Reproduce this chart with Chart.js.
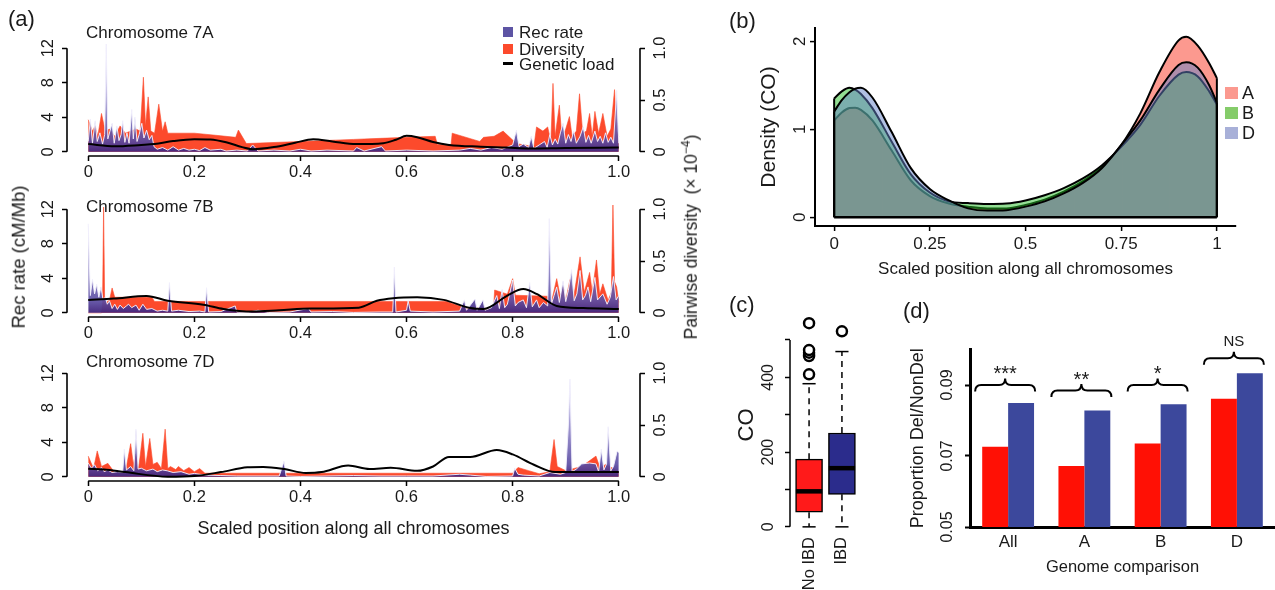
<!DOCTYPE html>
<html>
<head>
<meta charset="utf-8">
<script src="https://cdn.jsdelivr.net/npm/chart.js@4.4.1/dist/chart.umd.min.js"></script>
<style>
  body { margin: 0; width: 1275px; height: 590px; position: relative; background: #fff; overflow: hidden;
         font-family: "Liberation Sans", Arial, sans-serif; color: #1a1a1a; }
  canvas { position: absolute; }
  .t { position: absolute; white-space: nowrap; line-height: 1; transform: translateY(-50%); }
  .r { position: absolute; white-space: nowrap; line-height: 1; transform: translate(-50%, -50%) rotate(-90deg); }
  .sw { position: absolute; }
</style>
</head>
<body>
<canvas id="c7A" width="700" height="185" style="left:0;top:0"></canvas>
<canvas id="c7B" width="700" height="185" style="left:0;top:161px"></canvas>
<canvas id="c7D" width="700" height="220" style="left:0;top:325px"></canvas>
<canvas id="cDens" width="555" height="290" style="left:720px;top:0"></canvas>
<canvas id="cBox" width="150" height="300" style="left:720px;top:290px"></canvas>
<canvas id="cBar" width="405" height="300" style="left:870px;top:290px"></canvas>

<div class="t" style="left:8px;top:19px;font-size:22px">(a)</div>
<div class="t" style="left:729px;top:21px;font-size:22px">(b)</div>
<div class="t" style="left:729px;top:305px;font-size:22px">(c)</div>
<div class="t" style="left:903px;top:311px;font-size:22px">(d)</div>

<div class="t" style="left:86px;top:32px;font-size:17px">Chromosome 7A</div>
<div class="t" style="left:86px;top:206px;font-size:17px">Chromosome 7B</div>
<div class="t" style="left:86px;top:361px;font-size:17px">Chromosome 7D</div>

<div class="sw" style="left:503px;top:27px;width:10px;height:10px;background:#5d54a4"></div>
<div class="t" style="left:519px;top:32px;font-size:17px">Rec rate</div>
<div class="sw" style="left:503px;top:44px;width:10px;height:10px;background:#fc4a2c"></div>
<div class="t" style="left:519px;top:49px;font-size:17px">Diversity</div>
<div class="sw" style="left:503px;top:62px;width:10px;height:2.5px;background:#000"></div>
<div class="t" style="left:519px;top:64px;font-size:17px">Genetic load</div>

<div class="r" style="left:19px;top:257px;font-size:18.5px">Rec rate (cM/Mb)</div>
<div class="r" style="left:690px;top:237px;font-size:17.5px">Pairwise diversity&nbsp; (× 10<sup style="font-size:12px">−4</sup>)</div>

<div class="sw" style="left:1225px;top:87px;width:13px;height:12px;background:#fb998f"></div>
<div class="t" style="left:1242px;top:93px;font-size:18px">A</div>
<div class="sw" style="left:1225px;top:107px;width:13px;height:12px;background:#85cc6a"></div>
<div class="t" style="left:1242px;top:113px;font-size:18px">B</div>
<div class="sw" style="left:1225px;top:127px;width:13px;height:12px;background:#a8b0d8"></div>
<div class="t" style="left:1242px;top:133px;font-size:18px">D</div>

<script>
// ---- (a) recombination rate, diversity and genetic load along chromosome 7 ----
const posTicks = [0, 0.2, 0.4, 0.6, 0.8, 1];
const recTicks = [0, 4, 8, 12];
const divTicks = [0, 0.5, 1];

// [scaled position, cM/Mb]
const recRate7A = [[0,1.2],[0.004,3.8],[0.008,1.0],[0.013,3.6],[0.017,1.2],[0.022,2.2],[0.027,0.9],[0.031,2.0],[0.034,12.5],[0.037,1.5],[0.041,2.4],[0.045,3.3],[0.049,1.0],[0.054,3.0],[0.058,1.3],[0.062,2.0],[0.065,3.6],[0.069,1.1],[0.073,2.2],[0.077,1.0],[0.082,4.9],[0.085,1.5],[0.088,4.0],[0.092,1.2],[0.096,2.0],[0.101,3.3],[0.105,1.6],[0.11,2.5],[0.115,1.4],[0.12,1.9],[0.124,0.6],[0.13,0.3],[0.14,0.5],[0.15,0.2],[0.16,0.6],[0.17,0.2],[0.18,0.4],[0.19,0.2],[0.2,0.3],[0.21,0.15],[0.22,0.5],[0.23,0.2],[0.25,0.3],[0.26,0.1],[0.28,0.2],[0.3,0.1],[0.31,0.8],[0.32,0.1],[0.35,0.2],[0.38,0.1],[0.4,0.3],[0.42,0.1],[0.45,0.2],[0.5,0.1],[0.506,0.5],[0.52,0.1],[0.553,0.6],[0.56,0.1],[0.6,0.2],[0.65,0.1],[0.7,0.2],[0.72,0.4],[0.74,0.2],[0.76,0.5],[0.78,0.3],[0.8,0.8],[0.807,2.5],[0.812,0.6],[0.82,0.9],[0.83,0.5],[0.835,1.8],[0.84,0.4],[0.85,0.8],[0.86,1.2],[0.865,0.5],[0.87,2.0],[0.875,0.8],[0.88,1.5],[0.885,0.9],[0.89,2.2],[0.895,3.3],[0.9,1.0],[0.905,2.0],[0.91,1.2],[0.915,2.4],[0.92,1.0],[0.927,1.8],[0.933,2.9],[0.938,1.1],[0.943,1.9],[0.948,1.0],[0.955,2.4],[0.96,1.2],[0.965,1.8],[0.97,1.0],[0.975,2.2],[0.98,1.1],[0.985,1.7],[0.99,1.0],[0.996,7.1],[1,1.0]];
// [scaled position, pairwise diversity x 1e-4]
const diversity7A = [[0,0.31],[0.008,0.2],[0.013,0.25],[0.018,0.15],[0.025,0.37],[0.032,0.2],[0.04,0.22],[0.05,0.15],[0.06,0.25],[0.07,0.18],[0.08,0.2],[0.09,0.22],[0.098,0.2],[0.104,0.72],[0.108,0.25],[0.113,0.53],[0.118,0.2],[0.125,0.18],[0.133,0.46],[0.14,0.2],[0.145,0.29],[0.15,0.18],[0.2,0.18],[0.24,0.16],[0.278,0.14],[0.283,0.21],[0.298,0.08],[0.4,0.1],[0.5,0.12],[0.55,0.13],[0.654,0.15],[0.658,0.07],[0.684,0.07],[0.686,0.18],[0.738,0.1],[0.745,0.14],[0.765,0.15],[0.782,0.2],[0.807,0.08],[0.84,0.05],[0.845,0.24],[0.857,0.2],[0.866,0.24],[0.872,0.1],[0.876,0.66],[0.88,0.15],[0.888,0.45],[0.893,0.12],[0.9,0.22],[0.907,0.34],[0.912,0.15],[0.92,0.2],[0.926,0.56],[0.932,0.18],[0.939,0.2],[0.945,0.37],[0.95,0.15],[0.955,0.39],[0.962,0.18],[0.97,0.37],[0.978,0.15],[0.985,0.22],[0.992,0.6],[0.996,0.2],[1,0.15]];
const geneticLoad7A = [[0,0.9],[0.05,0.65],[0.1,0.8],[0.125,0.9],[0.16,1.25],[0.2,1.46],[0.23,1.42],[0.26,1.1],[0.29,0.55],[0.31,0.3],[0.35,0.55],[0.39,1.05],[0.424,1.45],[0.46,1.2],[0.505,0.9],[0.556,1.0],[0.58,1.4],[0.6,1.85],[0.62,1.7],[0.65,1.15],[0.68,0.8],[0.74,0.6],[0.79,0.5],[0.83,0.4],[0.9,0.45],[1,0.5]];

const recRate7B = [[0,10.3],[0.004,2.0],[0.008,3.9],[0.012,2.2],[0.016,3.3],[0.02,1.8],[0.024,3.0],[0.028,1.5],[0.032,1.8],[0.036,1.0],[0.04,1.4],[0.045,0.5],[0.05,1.0],[0.055,0.4],[0.06,0.9],[0.066,0.5],[0.072,0.8],[0.076,1.0],[0.082,0.6],[0.09,0.9],[0.096,0.3],[0.103,1.0],[0.11,0.4],[0.12,0.5],[0.13,0.2],[0.14,0.3],[0.15,0.2],[0.153,3.5],[0.157,0.2],[0.17,0.3],[0.19,0.15],[0.21,0.2],[0.22,0.1],[0.223,2.9],[0.227,0.1],[0.25,0.15],[0.277,0.8],[0.28,0.1],[0.3,0.05],[0.32,0.3],[0.34,0.05],[0.38,0.1],[0.415,0.5],[0.42,0.1],[0.46,0.15],[0.5,0.05],[0.55,0.1],[0.574,0.1],[0.577,5.3],[0.58,0.1],[0.6,0.3],[0.603,1.4],[0.607,0.2],[0.65,0.1],[0.7,0.2],[0.709,1.5],[0.713,0.3],[0.729,1.6],[0.733,0.3],[0.744,1.5],[0.748,0.3],[0.76,0.6],[0.77,2.0],[0.775,0.5],[0.78,2.7],[0.785,0.6],[0.79,1.0],[0.8,3.8],[0.805,0.8],[0.81,1.2],[0.82,1.5],[0.826,0.6],[0.832,3.5],[0.837,0.7],[0.845,1.5],[0.85,0.6],[0.858,1.2],[0.866,0.8],[0.869,10.9],[0.873,1.0],[0.878,2.0],[0.883,3.0],[0.888,1.2],[0.895,3.7],[0.9,1.3],[0.905,2.6],[0.911,5.0],[0.916,1.4],[0.921,2.2],[0.927,4.9],[0.932,1.5],[0.937,2.0],[0.942,3.0],[0.947,1.3],[0.955,4.1],[0.96,1.5],[0.97,2.2],[0.978,1.0],[0.984,1.8],[0.99,4.2],[0.995,1.5],[1,2.0]];
const diversity7B = [[0,0],[0.025,0],[0.027,0.1],[0.029,1.02],[0.031,0.1],[0.04,0.12],[0.045,0.24],[0.05,0.15],[0.12,0.15],[0.125,0.11],[0.52,0.11],[0.6,0.11],[0.675,0.11],[0.71,0.05],[0.764,0.04],[0.766,0.22],[0.79,0.18],[0.8,0.33],[0.805,0.17],[0.866,0.16],[0.872,0.08],[0.883,0.33],[0.89,0.15],[0.895,0.25],[0.9,0.12],[0.908,0.32],[0.915,0.15],[0.927,0.54],[0.935,0.2],[0.945,0.39],[0.95,0.2],[0.958,0.51],[0.964,0.18],[0.97,0.28],[0.98,0.12],[0.986,0.2],[0.989,1.05],[0.992,0.3],[0.996,0.25],[1,0.1]];
const geneticLoad7B = [[0,1.5],[0.048,1.65],[0.11,1.95],[0.15,1.4],[0.217,0.95],[0.255,0.45],[0.31,0.15],[0.36,0.3],[0.42,0.5],[0.51,0.6],[0.544,1.4],[0.575,1.7],[0.62,1.8],[0.67,1.5],[0.72,0.55],[0.745,0.45],[0.79,2.0],[0.82,2.75],[0.845,2.2],[0.883,0.8],[0.933,0.55],[1,0.45]];

const recRate7D = [[0,1.6],[0.006,1.0],[0.012,1.4],[0.018,0.7],[0.025,1.1],[0.03,0.6],[0.037,0.8],[0.045,0.5],[0.055,0.6],[0.065,0.5],[0.068,3.2],[0.072,0.8],[0.08,1.2],[0.086,0.7],[0.09,5.5],[0.094,0.9],[0.1,1.0],[0.11,0.7],[0.122,0.9],[0.13,0.6],[0.14,0.8],[0.149,0.7],[0.16,0.5],[0.175,0.6],[0.19,0.3],[0.2,0.4],[0.22,0.2],[0.25,0.15],[0.28,0.1],[0.32,0.1],[0.36,0.1],[0.366,1.2],[0.369,1.8],[0.373,0.1],[0.4,0.05],[0.45,0.1],[0.5,0.15],[0.55,0.1],[0.6,0.1],[0.65,0.1],[0.7,0.3],[0.72,0.2],[0.75,0.05],[0.8,0.1],[0.804,1.0],[0.81,0.3],[0.82,0.2],[0.85,0.1],[0.87,0.5],[0.89,0.3],[0.9,0.5],[0.905,6.0],[0.908,11.3],[0.912,0.6],[0.92,0.9],[0.93,1.5],[0.945,1.6],[0.957,1.5],[0.962,0.6],[0.967,3.2],[0.972,0.8],[0.977,1.5],[0.98,5.8],[0.985,0.7],[0.99,1.2],[0.997,3.0],[1,2.8]];
const diversity7D = [[0,0.2],[0.01,0.08],[0.017,0.25],[0.025,0.1],[0.037,0.13],[0.05,0.04],[0.07,0.04],[0.08,0.32],[0.085,0.12],[0.089,0.22],[0.095,0.08],[0.103,0.42],[0.108,0.1],[0.116,0.37],[0.122,0.12],[0.13,0.14],[0.138,0.08],[0.145,0.46],[0.15,0.08],[0.155,0.1],[0.165,0.07],[0.17,0.1],[0.18,0.06],[0.19,0.09],[0.2,0.05],[0.21,0.08],[0.22,0.035],[0.5,0.035],[0.8,0.035],[0.81,0.09],[0.83,0.06],[0.85,0.03],[0.87,0.05],[0.878,0.36],[0.884,0.1],[0.9,0.06],[0.93,0.1],[0.957,0.2],[0.965,0.08],[0.975,0.12],[0.99,0.08],[1,0.05]];
const geneticLoad7D = [[0,0.95],[0.03,0.85],[0.07,0.55],[0.15,0.02],[0.2,0.1],[0.25,0.55],[0.3,1.1],[0.33,1.15],[0.37,0.9],[0.41,0.45],[0.44,0.55],[0.49,1.3],[0.53,0.9],[0.57,1.05],[0.62,0.7],[0.65,1.2],[0.68,2.3],[0.72,2.3],[0.77,3.1],[0.8,2.6],[0.84,1.4],[0.88,0.55],[0.92,0.55],[1,0.55]];

// ---- (b) crossover density per sub-genome ----
const densityPos = [0,0.02,0.04,0.055,0.07,0.1,0.15,0.2,0.25,0.3,0.35,0.4,0.45,0.5,0.55,0.6,0.65,0.7,0.75,0.8,0.85,0.9,0.92,0.95,0.98,1];
const densityA = [1.10,1.19,1.24,1.245,1.22,1.10,0.76,0.42,0.24,0.155,0.12,0.10,0.10,0.14,0.20,0.29,0.41,0.57,0.82,1.18,1.65,2.01,2.05,1.95,1.75,1.58];
const densityB = [1.35,1.43,1.47,1.45,1.40,1.24,0.86,0.49,0.28,0.18,0.16,0.15,0.155,0.19,0.25,0.33,0.44,0.59,0.80,1.05,1.38,1.62,1.65,1.60,1.43,1.28];
const densityD = [1.20,1.33,1.42,1.46,1.47,1.36,0.97,0.56,0.32,0.19,0.10,0.075,0.08,0.12,0.18,0.27,0.39,0.56,0.82,1.10,1.45,1.73,1.76,1.70,1.50,1.30];
const densityXTicks = [0,0.125,0.25,0.375,0.5,0.625,0.75,0.875,1];
const densityYTicks = [0,0.25,0.5,0.75,1,1.25,1.5,1.75,2];

// ---- (c) crossovers with / without IBD ----
const boxLabels = ['No IBD', 'IBD'];
const boxLow = [0, 0];
const boxQ1 = [39, 87];
const boxMedian = [95, 157];
const boxQ3 = [181, 251];
const boxHigh = [383, 469];
const boxOutliers = [[408, 457, 466, 473, 545], [523]];
const coTicks = [0, 100, 200, 300, 400, 500];

// ---- (d) deleterious / non-deleterious proportion ----
const genomeLabels = ['All', 'A', 'B', 'D'];
const propRed = [0.0726, 0.0672, 0.0735, 0.0861];
const propBlue = [0.0849, 0.0828, 0.0846, 0.0933];
const braceTips = [0.0882, 0.0866, 0.0882, 0.0957];
const braceLabels = ['***', '**', '*', 'NS'];
const propTicks = [0.05, 0.07, 0.09];

Chart.defaults.font.family = '"Liberation Sans", Arial, sans-serif';
Chart.defaults.color = '#1a1a1a';
Chart.defaults.plugins.legend.display = false;
Chart.defaults.plugins.tooltip.enabled = false;
Chart.defaults.animation = false;

const fixTicks = values => scale => { scale.ticks = values.map(v => ({ value: v })); };
const pts = arr => arr.map(p => ({ x: p[0], y: p[1] }));

// R-style axis line, drawn only between first and last tick
const rAxis = {
  id: 'rAxis',
  afterDraw(chart) {
    const ctx = chart.ctx;
    ctx.save();
    ctx.strokeStyle = '#000';
    Object.values(chart.scales).forEach(s => {
      const w = s.options.rLine;
      if (!w) return;
      const a = s.getPixelForValue(s.ticks[0].value);
      const b = s.getPixelForValue(s.ticks[s.ticks.length - 1].value);
      ctx.lineWidth = w;
      ctx.beginPath();
      if (s.isHorizontal()) { ctx.moveTo(a, s.top); ctx.lineTo(b, s.top); }
      else if (s.position === 'left') { ctx.moveTo(s.right, a); ctx.lineTo(s.right, b); }
      else { ctx.moveTo(s.left, a); ctx.lineTo(s.left, b); }
      ctx.stroke();
    });
    ctx.restore();
  }
};

function recFill(c) {
  const chart = c.chart;
  if (!chart.chartArea) return 'rgba(80,60,150,0.9)';
  const y = chart.scales.yL;
  const g = chart.ctx.createLinearGradient(0, y.getPixelForValue(0), 0, y.getPixelForValue(12));
  g.addColorStop(0, 'rgba(68,38,125,0.97)');
  g.addColorStop(0.12, 'rgba(92,78,164,0.92)');
  g.addColorStop(1, 'rgba(190,185,236,0.6)');
  return g;
}

function chromChart(id, rec, div, load, xTitle) {
  const tickFont = { size: 16.5 };
  const tickGrid = { drawOnChartArea: false, tickLength: 5, tickWidth: 1.5, tickColor: '#000' };
  return new Chart(document.getElementById(id), {
    type: 'line',
    data: {
      datasets: [
        { label: 'Genetic load', data: pts(load), yAxisID: 'yL', borderColor: '#000', borderWidth: 2,
          cubicInterpolationMode: 'monotone', fill: false, order: 0 },
        { label: 'Rec rate', data: pts(rec), yAxisID: 'yL', borderColor: 'rgba(240,238,252,0.95)', borderWidth: 1,
          backgroundColor: recFill, fill: 'origin', tension: 0, order: 1 },
        { label: 'Diversity', data: pts(div), yAxisID: 'yR', borderColor: '#fc4a2c', borderWidth: 0.6,
          backgroundColor: '#fc4a2c', fill: 'origin', tension: 0, order: 2 }
      ]
    },
    options: {
      responsive: false, devicePixelRatio: 1,
      layout: { padding: { top: 44, left: 0, right: 0, bottom: 0 } },
      elements: { point: { radius: 0 } },
      scales: {
        x: {
          type: 'linear', min: -0.04, max: 1.04, rLine: 1.6,
          afterBuildTicks: fixTicks(posTicks),
          afterFit: s => { s.height = xTitle ? 64 : 29; },
          ticks: { font: tickFont, padding: 2, maxRotation: 0, autoSkip: false,
                   callback: v => v === 0 ? '0' : v.toFixed(1) },
          grid: tickGrid, border: { display: false },
          title: { display: !!xTitle, text: xTitle || '', font: { size: 18 }, padding: { top: 0, bottom: 5 } }
        },
        yL: {
          type: 'linear', position: 'left', min: -0.48, max: 12.48, rLine: 1.6,
          afterBuildTicks: fixTicks(recTicks),
          afterFit: s => { s.width = 67; },
          ticks: { font: tickFont, padding: 4, minRotation: 90, maxRotation: 90, crossAlign: 'center',
                   autoSkip: false, callback: v => String(v) },
          grid: tickGrid, border: { display: false }
        },
        yR: {
          type: 'linear', position: 'right', min: -0.04, max: 1.04, rLine: 1.6,
          afterBuildTicks: fixTicks(divTicks),
          afterFit: s => { s.width = 60; },
          ticks: { font: tickFont, padding: 4, minRotation: 90, maxRotation: 90, crossAlign: 'center',
                   autoSkip: false, callback: v => v === 0 ? '0' : v.toFixed(1) },
          grid: tickGrid, border: { display: false }
        }
      }
    },
    plugins: [rAxis]
  });
}

chromChart('c7A', recRate7A, diversity7A, geneticLoad7A);
chromChart('c7B', recRate7B, diversity7B, geneticLoad7B);
chromChart('c7D', recRate7D, diversity7D, geneticLoad7D, 'Scaled position along all chromosomes');

// ---- (b) ----
const densSeries = [
  { name: 'A', values: densityA, fill: 'rgba(249,51,31,0.5)' },
  { name: 'B', values: densityB, fill: 'rgba(40,190,40,0.5)' },
  { name: 'D', values: densityD, fill: 'rgba(100,130,200,0.5)' }
];
const densDatasets = densSeries.map((s, i) => ({
  label: s.name,
  data: densityPos.map((x, j) => ({ x, y: s.values[j] })),
  backgroundColor: s.fill, borderColor: '#000', borderWidth: 2,
  fill: 'origin', cubicInterpolationMode: 'monotone', order: 10 - i
}));
densSeries.forEach(s => {
  const last = densityPos.length - 1;
  [[densityPos[0], s.values[0]], [densityPos[last], s.values[last]]].forEach(e => {
    densDatasets.push({ data: [{ x: e[0], y: 0 }, { x: e[0], y: e[1] }], borderColor: '#000',
                        borderWidth: 2, fill: false, tension: 0, order: 1 });
  });
});
densDatasets.push({ data: [{ x: densityPos[0], y: 0 }, { x: densityPos[densityPos.length - 1], y: 0 }],
                    borderColor: '#000', borderWidth: 2.5, fill: false, tension: 0, order: 1 });

const isQuarter = v => Math.abs(v * 4 - Math.round(v * 4)) < 1e-9;
const isInt = v => Math.abs(v - Math.round(v)) < 1e-9;
new Chart(document.getElementById('cDens'), {
  type: 'line',
  data: { datasets: densDatasets },
  options: {
    responsive: false, devicePixelRatio: 1,
    layout: { padding: { top: 28, left: 0, right: 39, bottom: 0 } },
    elements: { point: { radius: 0 } },
    scales: {
      x: {
        type: 'linear', min: -0.05, max: 1.05, z: 1,
        afterBuildTicks: fixTicks(densityXTicks),
        afterFit: s => { s.height = 64; },
        ticks: { font: { size: 17 }, padding: 3, maxRotation: 0, autoSkip: false,
                 callback: v => isQuarter(v) ? String(v) : '' },
        grid: { color: c => (c.tick && c.tick.value > 0 && c.tick.value < 1) ? 'rgba(255,255,255,0.3)' : 'transparent',
                lineWidth: 1.2, tickLength: 5, tickWidth: 1.5,
                tickColor: c => (c.tick && isQuarter(c.tick.value)) ? '#000' : 'transparent' },
        border: { display: true, color: '#000', width: 2 },
        title: { display: true, text: 'Scaled position along all chromosomes', font: { size: 17 },
                 padding: { top: 0, bottom: 10 } }
      },
      y: {
        type: 'linear', min: -0.1, max: 2.15, z: 1,
        afterBuildTicks: fixTicks(densityYTicks),
        afterFit: s => { s.width = 95; },
        ticks: { font: { size: 17 }, padding: 5, minRotation: 90, maxRotation: 90, crossAlign: 'center',
                 autoSkip: false, callback: v => isInt(v) ? String(v) : '' },
        grid: { color: c => (c.tick && c.tick.value > 0) ? 'rgba(255,255,255,0.3)' : 'transparent',
                lineWidth: 1.2, tickLength: 5, tickWidth: 1.5,
                tickColor: c => (c.tick && isInt(c.tick.value)) ? '#000' : 'transparent' },
        border: { display: true, color: '#000', width: 2 },
        title: { display: true, text: 'Density (CO)', font: { size: 21 }, padding: { top: 37, bottom: 0 } }
      }
    }
  }
});

// ---- (c) ----
const boxColors = ['#ff1a1a', '#2b2c8c'];
const boxDatasets = [{
  type: 'bar',
  data: boxLabels.map((_, i) => ({ x: i + 1, y: [boxQ1[i], boxQ3[i]] })),
  backgroundColor: boxColors, borderColor: '#000', borderWidth: 1.5, borderSkipped: false,
  barThickness: 27, order: 2
}];
boxLabels.forEach((_, i) => {
  const p = i + 1;
  const line = (data, extra) => Object.assign({ type: 'line', data, borderColor: '#000', borderWidth: 1.5,
                                                fill: false, tension: 0, pointRadius: 0, order: 3 }, extra);
  boxDatasets.push(line([{ x: p, y: boxQ3[i] }, { x: p, y: boxHigh[i] }], { borderDash: [6, 5] }));
  boxDatasets.push(line([{ x: p, y: boxQ1[i] }, { x: p, y: boxLow[i] }], { borderDash: [6, 5] }));
  boxDatasets.push(line([{ x: p - 0.2, y: boxHigh[i] }, { x: p + 0.2, y: boxHigh[i] }]));
  boxDatasets.push(line([{ x: p - 0.2, y: boxLow[i] }, { x: p + 0.2, y: boxLow[i] }]));
  boxDatasets.push(line([{ x: p - 0.4, y: boxMedian[i] }, { x: p + 0.4, y: boxMedian[i] }],
                        { borderWidth: 4.5, order: 1 }));
  boxDatasets.push(line(boxOutliers[i].map(v => ({ x: p, y: v })),
                        { showLine: false, pointRadius: 5, pointBorderWidth: 2.5, pointBorderColor: '#000',
                          pointBackgroundColor: '#fff', order: 0 }));
});
new Chart(document.getElementById('cBox'), {
  type: 'scatter',
  data: { datasets: boxDatasets },
  options: {
    responsive: false, devicePixelRatio: 1,
    layout: { padding: { top: 25, left: 0, right: 9, bottom: 0 } },
    scales: {
      x: {
        type: 'linear', min: 0.42, max: 2.58, offset: false,
        afterBuildTicks: fixTicks([1, 2]),
        afterFit: s => { s.height = 55; },
        ticks: { font: { size: 16.5 }, padding: 2, minRotation: 90, maxRotation: 90,
                 autoSkip: false, callback: v => boxLabels[v - 1] },
        grid: { display: false, drawTicks: false, offset: false }, border: { display: false }
      },
      y: {
        type: 'linear', min: -21.8, max: 566.8, rLine: 1.5,
        afterBuildTicks: fixTicks(coTicks),
        afterFit: s => { s.width = 70; },
        ticks: { font: { size: 16 }, padding: 3, minRotation: 90, maxRotation: 90, crossAlign: 'center',
                 autoSkip: false, callback: v => v % 200 === 0 ? String(v) : '' },
        grid: { drawOnChartArea: false, tickLength: 5, tickWidth: 1.5, tickColor: '#000' },
        border: { display: false },
        title: { display: true, text: 'CO', font: { size: 22 }, padding: { top: 14, bottom: 0 } }
      }
    }
  },
  plugins: [rAxis]
});

// ---- (d) ----
const braces = {
  id: 'braces',
  afterDatasetsDraw(chart) {
    const { ctx, scales: { x, y } } = chart;
    ctx.save();
    ctx.strokeStyle = '#000';
    ctx.fillStyle = '#1a1a1a';
    ctx.lineWidth = 2;
    ctx.textAlign = 'center';
    braceTips.forEach((v, i) => {
      const cx = x.getPixelForValue(i) - 3;
      const x0 = cx - 30, x1 = cx + 30, y0 = y.getPixelForValue(v), h = 6.5, r = 6;
      ctx.beginPath();
      ctx.moveTo(x0, y0);
      ctx.quadraticCurveTo(x0, y0 - h, x0 + r, y0 - h);
      ctx.lineTo(cx - r, y0 - h);
      ctx.quadraticCurveTo(cx, y0 - h, cx, y0 - 2 * h);
      ctx.quadraticCurveTo(cx, y0 - h, cx + r, y0 - h);
      ctx.lineTo(x1 - r, y0 - h);
      ctx.quadraticCurveTo(x1, y0 - h, x1, y0);
      ctx.stroke();
      const star = braceLabels[i].startsWith('*');
      ctx.font = (star ? 20 : 15) + 'px "Liberation Sans", Arial, sans-serif';
      ctx.textBaseline = 'alphabetic';
      ctx.fillText(braceLabels[i], cx, star ? y0 - 11 : y0 - 19);
    });
    ctx.restore();
  }
};
new Chart(document.getElementById('cBar'), {
  type: 'bar',
  data: {
    labels: genomeLabels,
    datasets: [
      { label: 'Del', data: propRed, backgroundColor: '#ff1005', categoryPercentage: 0.68, barPercentage: 1 },
      { label: 'NonDel', data: propBlue, backgroundColor: '#3c489c', categoryPercentage: 0.68, barPercentage: 1 }
    ]
  },
  options: {
    responsive: false, devicePixelRatio: 1,
    layout: { padding: { top: 59.5, left: 0, right: 0, bottom: 0 } },
    scales: {
      x: {
        afterFit: s => { s.height = 63; },
        ticks: { font: { size: 17 }, padding: 5 },
        grid: { display: false, drawTicks: false },
        border: { display: true, color: '#000', width: 3 },
        title: { display: true, text: 'Genome comparison', font: { size: 16.5 }, padding: { top: 0, bottom: 13 } }
      },
      y: {
        min: 0.05, max: 0.1,
        afterBuildTicks: fixTicks(propTicks),
        afterFit: s => { s.width = 100; },
        ticks: { font: { size: 16 }, padding: 2, minRotation: 90, maxRotation: 90, crossAlign: 'center',
                 autoSkip: false, callback: v => v.toFixed(2) },
        grid: { drawOnChartArea: false, tickLength: 5, tickWidth: 2, tickColor: '#000' },
        border: { display: true, color: '#000', width: 3 },
        title: { display: true, text: 'Proportion Del/NonDel', font: { size: 18 }, padding: { top: 37, bottom: 0 } }
      }
    }
  },
  plugins: [braces]
});
</script>
</body>
</html>
